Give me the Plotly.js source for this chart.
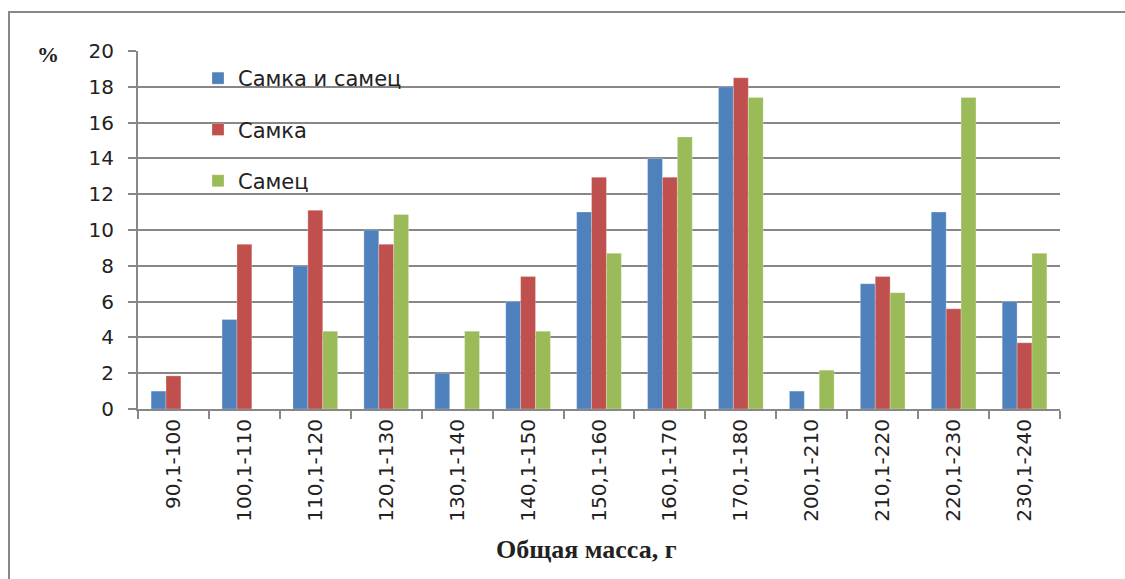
<!DOCTYPE html>
<html><head><meta charset="utf-8">
<script src="https://cdn.plot.ly/plotly-3.0.1.min.js"></script>
<style>html,body{margin:0;padding:0;background:#fff;}#chart{width:1125px;height:579px;}</style>
</head><body><div id="chart"></div>
<script>
const categories = ["90,1-100","100,1-110","110,1-120","120,1-130","130,1-140","140,1-150","150,1-160","160,1-170","170,1-180","200,1-210","210,1-220","220,1-230","230,1-240"];
const both   = [1, 5, 8, 10, 2, 6, 11, 14, 18, 1, 7, 11, 6];
const female = [1.85, 9.2, 11.1, 9.2, 0, 7.4, 12.95, 12.95, 18.5, 0, 7.4, 5.6, 3.7];
const male   = [0, 0, 4.35, 10.87, 4.35, 4.35, 8.7, 15.2, 17.4, 2.17, 6.5, 17.4, 8.7];
const seriesNames = ["Самка и самец", "Самка", "Самец"];
const colors = ["#4F81BD", "#C0504D", "#9BBB59"];

const series = [both, female, male];
const traces = series.map((vals, i) => ({
  type: "bar", x: categories, y: vals, name: seriesNames[i],
  legendgroup: "g" + i,
  marker: {color: colors[i], line: {color: "rgba(255,255,255,0.5)", width: 0.5}},
  hoverinfo: "y"
}));

const L = 138, R = 1060, T = 51, B = 409;
const W = R - L, H = B - T;
const px = x => (x - L) / W;
const py = y => (B - y) / H;

const layout = {
  width: 1125, height: 579,
  margin: {l: L, r: 1125 - R, t: T, b: 579 - B},
  paper_bgcolor: "#fff", plot_bgcolor: "#fff",
  barmode: "group", bargap: 0.37, bargroupgap: 0,
  showlegend: true,
  legend: {x: px(198), y: py(58), xanchor: "left", yanchor: "top",
    bgcolor: "rgba(0,0,0,0)", font: {family: "DejaVu Sans", size: 21, color: "#222"},
    tracegroupgap: 21, traceorder: "grouped", itemwidth: 30},
  xaxis: {type: "category", showgrid: false, showline: true, linecolor: "#878787", linewidth: 2,
    ticks: "outside", tickson: "boundaries", ticklen: 8, tickcolor: "#878787", tickwidth: 2,
    tickangle: -90, tickfont: {family: "DejaVu Sans", size: 20, color: "#222"}, fixedrange: true},
  yaxis: {range: [0, 20], dtick: 2, showgrid: true, gridcolor: "#878787", gridwidth: 2,
    showline: true, linecolor: "#878787", linewidth: 2, zeroline: false,
    ticks: "outside", ticklen: 8, tickcolor: "#878787", tickwidth: 2,
    tickfont: {family: "DejaVu Sans", size: 20, color: "#222"}, ticklabelstandoff: 10},
  annotations: [
    {text: "<b>%</b>", xref: "paper", yref: "paper", x: px(48), y: py(55), showarrow: false,
     xanchor: "center", yanchor: "middle", font: {family: "Liberation Serif", size: 22, color: "#222"}},
    {text: "<b>Общая масса, г</b>", xref: "paper", yref: "paper", x: px(586), y: py(549), showarrow: false,
     xanchor: "center", yanchor: "middle", font: {family: "Liberation Serif", size: 26, color: "#222"}}
  ],
  shapes: [
    {type: "rect", xref: "paper", yref: "paper", x0: px(9), x1: px(1135), y0: py(590), y1: py(12),
     line: {color: "#888", width: 2}, fillcolor: "rgba(0,0,0,0)", layer: "below"}
  ]
};
Plotly.newPlot("chart", traces, layout, {displayModeBar: false, staticPlot: true});
</script></body></html>
